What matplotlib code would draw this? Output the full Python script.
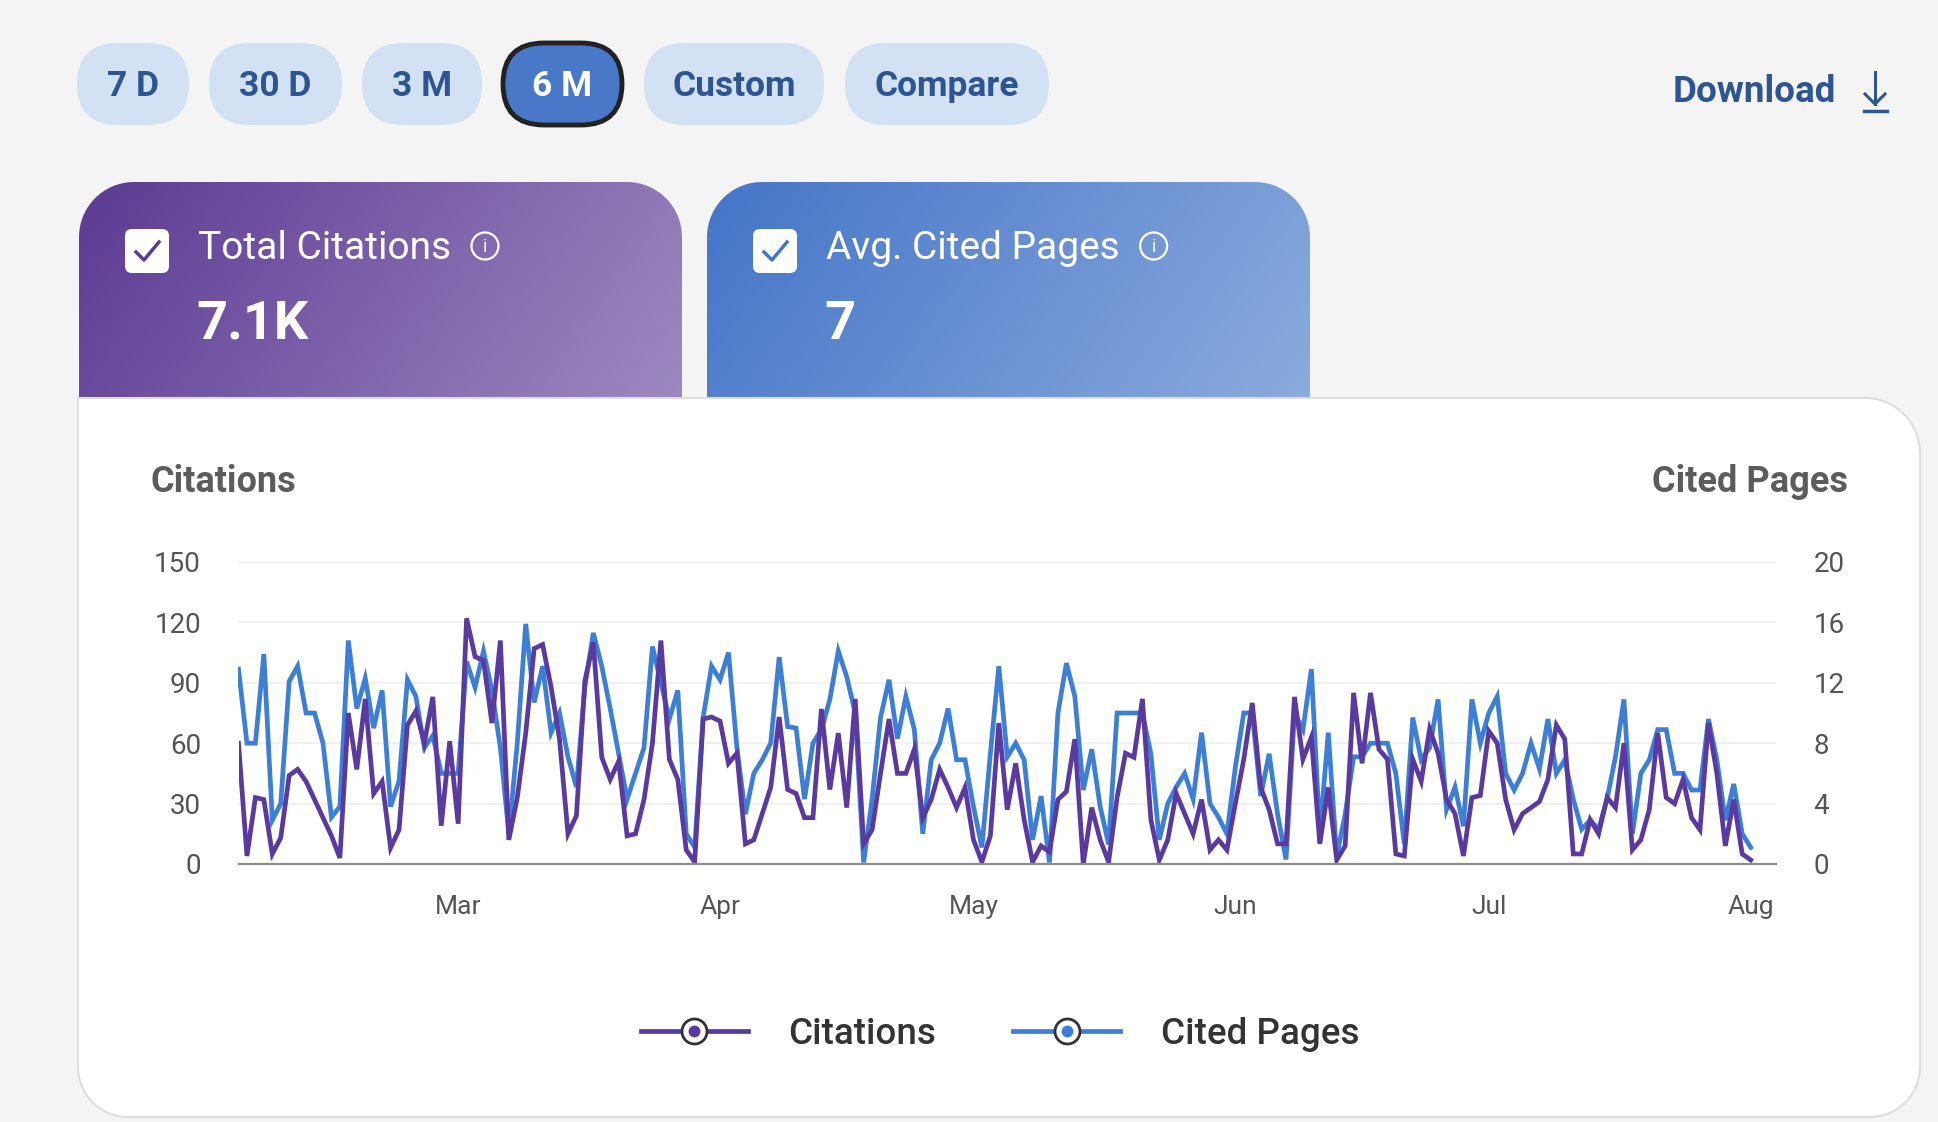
import numpy as np
import pandas as pd
import matplotlib.pyplot as plt
import matplotlib.dates as mdates
from matplotlib.patches import Polygon, FancyBboxPatch, Circle
from matplotlib.lines import Line2D
from matplotlib.legend_handler import HandlerTuple

plt.rcParams['font.family'] = ['Roboto', 'DejaVu Sans']

# daily values, 3 Feb -> 1 Aug
dates = pd.date_range('2025-02-03', periods=180, freq='D')
citations = [60, 4, 33, 32, 5, 13, 44, 47, 41, 32,
             23, 14, 3, 75, 47, 82, 35, 41, 8, 17,
             69, 76, 60, 83, 19, 61, 20, 122, 103, 101,
             70, 111, 12, 33, 65, 107, 109, 88, 62, 15,
             24, 91, 110, 53, 42, 51, 14, 15, 32, 60,
             111, 52, 42, 7, 1, 72, 73, 71, 50, 55,
             10, 12, 25, 38, 73, 37, 35, 23, 23, 77,
             37, 65, 28, 82, 10, 17, 45, 72, 45, 45,
             57, 23, 32, 47, 38, 28, 38, 12, 1, 14,
             70, 27, 50, 22, 1, 9, 6, 32, 36, 62,
             0, 28, 12, 1, 33, 55, 53, 82, 22, 2,
             12, 35, 25, 15, 32, 7, 12, 7, 30, 52,
             80, 38, 27, 10, 10, 83, 52, 63, 10, 38,
             2, 9, 85, 50, 85, 57, 52, 5, 4, 52,
             41, 67, 55, 32, 25, 4, 33, 34, 66, 60,
             32, 17, 25, 28, 31, 42, 69, 62, 5, 5,
             22, 15, 33, 28, 60, 7, 12, 27, 65, 33,
             30, 42, 23, 17, 70, 45, 9, 32, 5, 2]
cited_pages = [12.9, 8.0, 8.0, 13.9, 2.9, 4.0, 12.1, 13.1, 10.0, 10.0,
               8.0, 3.1, 3.8, 14.8, 10.3, 12.3, 9.0, 11.5, 3.8, 5.5,
               12.2, 11.1, 7.7, 8.5, 6.0, 6.0, 6.0, 13.4, 11.7, 14.1,
               11.5, 7.7, 2.0, 8.0, 15.9, 10.7, 13.1, 8.7, 10.0, 7.1,
               5.1, 11.7, 15.3, 13.1, 10.3, 7.3, 4.3, 6.0, 7.7, 14.4,
               12.0, 9.6, 11.5, 2.0, 1.1, 9.7, 13.1, 12.2, 14.0, 7.7,
               3.3, 6.0, 6.9, 8.0, 13.7, 9.1, 9.0, 4.3, 8.0, 8.9,
               10.9, 14.1, 12.4, 10.0, 0.1, 4.3, 9.7, 12.2, 8.3, 11.1,
               8.9, 2.0, 6.9, 8.0, 10.3, 6.9, 6.9, 3.8, 1.1, 7.3,
               13.1, 7.1, 8.0, 6.9, 1.6, 4.5, 0.1, 10.0, 13.3, 11.1,
               4.9, 7.6, 3.8, 1.3, 10.0, 10.0, 10.0, 10.0, 7.3, 1.6,
               4.0, 5.1, 6.0, 4.3, 8.7, 4.0, 3.1, 2.0, 6.4, 10.0,
               10.0, 4.5, 7.3, 3.3, 0.3, 10.0, 8.9, 12.9, 2.0, 8.7,
               0.5, 3.3, 7.1, 7.1, 8.0, 8.0, 8.0, 6.0, 1.3, 9.7,
               6.9, 7.7, 10.9, 3.6, 5.1, 2.5, 10.9, 8.0, 10.0, 11.1,
               6.0, 4.9, 6.0, 8.0, 6.3, 9.6, 6.0, 6.9, 4.3, 2.3,
               2.9, 2.3, 4.3, 7.1, 10.9, 2.0, 6.0, 6.9, 8.9, 8.9,
               6.0, 6.0, 4.9, 4.9, 9.6, 6.9, 2.9, 5.3, 2.0, 1.1]

ranges = ['7 D', '30 D', '3 M', '6 M', 'Custom', 'Compare']
selected = '6 M'
card_titles = ['Total Citations', 'Avg. Cited Pages']
card_values = ['7.1K', '7']

PURPLE = '#5b3a9f'
BLUE = '#3d7fd5'
NAVY = '#2d5591'
W, H = 1938, 1122


def round_rect(x0, y0, x1, y1, tl, tr, br, bl):
    # y grows downward (pixel coords of the background axes)
    pts = []
    for cx, cy, r, a0 in [(x0 + tl, y0 + tl, tl, 180), (x1 - tr, y0 + tr, tr, 270),
                          (x1 - br, y1 - br, br, 0), (x0 + bl, y1 - bl, bl, 90)]:
        a = np.radians(np.linspace(a0, a0 + 90, 20))
        pts += list(zip(cx + r * np.cos(a), cy + r * np.sin(a)))
    return np.array(pts)


fig = plt.figure(figsize=(W / 100, H / 100), dpi=100, facecolor='#f4f4f4')
bg = fig.add_axes([0, 0, 1, 1])
bg.set_xlim(0, W)
bg.set_ylim(H, 0)
bg.axis('off')

# range buttons
btn_x = [(77, 189), (209, 342), (362, 482), (503, 622), (644, 824), (845, 1049)]
for lab, (x0, x1) in zip(ranges, btn_x):
    sel = lab == selected
    bg.add_patch(FancyBboxPatch((x0, 43), x1 - x0, 82, boxstyle='round,pad=0,rounding_size=41',
                                fc='#4a78c8' if sel else '#d2e1f4',
                                ec='#222222' if sel else 'none', lw=3.5))
    bg.text((x0 + x1) / 2, 86, lab, ha='center', va='center', fontsize=25.5, fontweight='bold',
            color='white' if sel else NAVY)

bg.text(1673, 92, 'Download', ha='left', va='center', fontsize=26.5, fontweight='bold', color=NAVY)
bg.plot([1875, 1875], [72, 104], color=NAVY, lw=2.2)
bg.plot([1865, 1875, 1885], [94, 104, 94], color=NAVY, lw=2.2)
bg.plot([1864, 1887], [111, 111], color=NAVY, lw=2.5)

# metric cards with gradient
cards = [(79, 682, '#5c3a93', '#9d89c1', PURPLE), (707, 1310, '#4475c8', '#8cabdd', '#4475c8')]
for (x0, x1, c0, c1, ck), title, val in zip(cards, card_titles, card_values):
    y0, y1 = 182, 397
    c0 = np.array(plt.matplotlib.colors.to_rgb(c0))
    c1 = np.array(plt.matplotlib.colors.to_rgb(c1))
    jj, ii = np.meshgrid(np.linspace(0, 1, 300), np.linspace(0, 1, 100))
    t = (0.8 * jj + 0.2 * ii)[..., None]
    img = bg.imshow(c0 + (c1 - c0) * t, extent=(x0, x1, y1, y0), aspect='auto', zorder=1)
    clip = Polygon(round_rect(x0, y0, x1, y1, 55, 55, 0, 0), closed=True, fc='none', ec='none',
                   transform=bg.transData)
    bg.add_patch(clip)
    img.set_clip_path(clip)
    bg.add_patch(FancyBboxPatch((x0 + 46, 229), 44, 44, boxstyle='round,pad=0,rounding_size=7',
                                fc='white', ec='none', zorder=2))
    bg.plot([x0 + 57, x0 + 65, x0 + 80], [252, 260, 242], color=ck, lw=2.5, zorder=3)
    tx = bg.text(x0 + 119, 248, title, ha='left', va='center', fontsize=28, color='white', zorder=3)
    fig.canvas.draw()
    bb = tx.get_window_extent()
    ix = bb.x1 + 34
    bg.add_patch(Circle((ix, 246), 13.5, fc='none', ec='white', lw=1.6, zorder=3))
    bg.text(ix, 247, 'i', ha='center', va='center', fontsize=13, color='white', zorder=3)
    bg.text(x0 + 117, 324, val, ha='left', va='center', fontsize=39, fontweight='bold',
            color='white', zorder=3)
bg.set_xlim(0, W)
bg.set_ylim(H, 0)

# white chart panel
bg.add_patch(Polygon(round_rect(78, 398, 1920, 1117, 0, 55, 50, 50), closed=True,
                     fc='white', ec='#dedede', lw=1.5, zorder=1))
bg.text(151, 482, 'Citations', ha='left', va='center', fontsize=26, fontweight='bold', color='#5c5c5c')
bg.text(1848, 482, 'Cited Pages', ha='right', va='center', fontsize=26, fontweight='bold', color='#5c5c5c')

# chart axes
rect = [238.5 / W, 1 - 864 / H, (1776 - 238.5) / W, 302 / H]
ax = fig.add_axes(rect)
ax2 = ax.twinx()
ax.set_zorder(ax2.get_zorder() + 1)
ax.patch.set_visible(False)
ax2.patch.set_visible(False)

ax2.plot(dates, cited_pages, color=BLUE, lw=3.4, solid_joinstyle='miter')
ax.plot(dates, citations, color=PURPLE, lw=3.4, solid_joinstyle='miter')

ax.set_ylim(0, 150)
ax.set_yticks([0, 30, 60, 90, 120, 150])
ax2.set_ylim(0, 20)
ax2.set_yticks([0, 4, 8, 12, 16, 20])
ax2.grid(axis='y', color='#efefef', lw=1.2)
ax.set_xlim(dates[0], dates[0] + pd.Timedelta(days=182))
ax.xaxis.set_major_locator(mdates.MonthLocator())
ax.xaxis.set_major_formatter(mdates.DateFormatter('%b'))

for a in (ax, ax2):
    for s in a.spines.values():
        s.set_visible(False)
    a.tick_params(length=0, labelsize=20, labelcolor='#555555')
ax.spines['bottom'].set_visible(True)
ax.spines['bottom'].set_color('#8c8c8c')
ax.spines['bottom'].set_linewidth(1.6)
ax.tick_params(axis='y', pad=27)
ax2.tick_params(axis='y', pad=27)
ax.tick_params(axis='x', pad=22, labelsize=19)

# legend
h1 = (Line2D([], [], color=PURPLE, lw=3.4, marker='o', ms=18, mfc='white', mec='#333333', mew=2),
      Line2D([], [], ls='none', marker='o', ms=7.5, color=PURPLE))
h2 = (Line2D([], [], color=BLUE, lw=3.4, marker='o', ms=18, mfc='white', mec='#333333', mew=2),
      Line2D([], [], ls='none', marker='o', ms=7.5, color=BLUE))
fig.legend([h1, h2], ['Citations', 'Cited Pages'], handler_map={tuple: HandlerTuple(ndivide=1)},
           loc='center', bbox_to_anchor=(1000 / W, 1 - 1034 / H), ncol=2, frameon=False,
           prop=dict(family='Roboto', weight='medium', size=26.5), labelcolor='#333333',
           handlelength=2.9, handletextpad=1.1, columnspacing=2.1)

plt.savefig('out.png', dpi=100, facecolor=fig.get_facecolor())
